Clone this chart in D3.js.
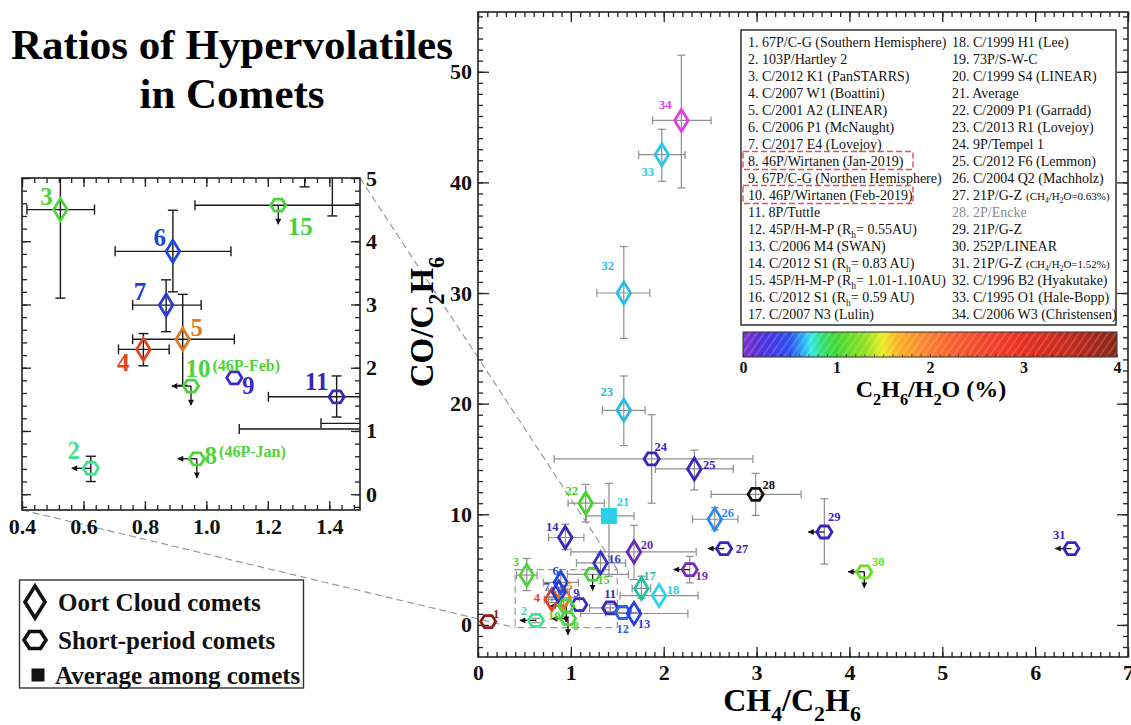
<!DOCTYPE html>
<html>
<head>
<meta charset="utf-8">
<script src="https://cdn.jsdelivr.net/npm/d3@7"></script>
<style>
  html, body { margin: 0; padding: 0; background: #fff; }
  svg { display: block; font-family: "Liberation Serif", "Times New Roman", serif; }
</style>
</head>
<body>
<svg id="chart" width="1131" height="725"></svg>
<script>
// ---------------- data (comet 1 … 34) ----------------
const cometNames = [
  "67P/C-G (Southern Hemisphere)", "103P/Hartley 2", "C/2012 K1 (PanSTARRS)", "C/2007 W1 (Boattini)",
  "C/2001 A2 (LINEAR)", "C/2006 P1 (McNaught)", "C/2017 E4 (Lovejoy)", "46P/Wirtanen (Jan-2019)",
  "67P/C-G (Northen Hemisphere)", "46P/Wirtanen (Feb-2019)", "8P/Tuttle", "45P/H-M-P (R_{h}= 0.55AU)",
  "C/2006 M4 (SWAN)", "C/2012 S1 (R_{h}= 0.83 AU)", "45P/H-M-P (R_{h}= 1.01-1.10AU)", "C/2012 S1 (R_{h}= 0.59 AU)",
  "C/2007 N3 (Lulin)", "C/1999 H1 (Lee)", "73P/S-W-C", "C/1999 S4 (LINEAR)", "Average",
  "C/2009 P1 (Garradd)", "C/2013 R1 (Lovejoy)", "9P/Tempel 1", "C/2012 F6 (Lemmon)", "C/2004 Q2 (Machholz)",
  "21P/G-Z", "2P/Encke", "21P/G-Z", "252P/LINEAR", "21P/G-Z", "C/1996 B2 (Hyakutake)",
  "C/1995 O1 (Hale-Bopp)", "C/2006 W3 (Christensen)"
];
const cometNotes = { 27: "(CH_{4}/H_{2}O=0.63%)", 31: "(CH_{4}/H_{2}O=1.52%)" };
// OC = Oort cloud, SP = short-period, AVG = average among comets
const cometClass = ["SP","SP","OC","OC","OC","OC","OC","SP","SP","SP","SP","SP","OC","OC","SP","OC","OC",
                    "OC","SP","OC","AVG","OC","OC","SP","OC","OC","SP","SP","SP","SP","SP","OC","OC","OC"];
const ch4PerC2h6 = [0.11,0.624,0.525,0.795,0.923,0.891,0.869,0.969,1.091,0.95,1.424,1.56,1.68,0.94,1.234,1.32,1.76,
                    1.95,2.28,1.68,1.41,1.16,1.57,1.87,2.33,2.55,2.65,2.99,3.73,4.16,6.39,1.57,1.98,2.19];
const coPerC2h6  = [0.3,0.41,4.5,2.29,2.45,3.84,2.99,0.56,1.84,1.71,1.54,1.12,1.03,7.9,4.57,5.6,3.3,
                    2.65,5.0,6.6,9.85,11.0,19.4,15.0,14.1,9.55,6.9,11.8,8.4,4.8,6.9,30.0,42.5,45.6];
const ch4Low  = [null,null,0.416,0.714,0.76,0.703,0.76,null,null,null,1.202,1.373,1.107,0.76,0.963,1.06,1.66,
                 1.53,null,1.0,1.17,0.97,1.34,0.82,1.91,2.31,null,2.51,null,null,null,1.28,1.73,1.88];
const ch4High = [null,null,0.636,0.879,1.091,1.08,0.983,null,null,null,1.65,1.75,2.26,1.14,1.62,1.59,1.86,
                 2.37,null,2.35,1.68,1.36,1.80,2.96,2.75,2.80,null,3.48,null,null,null,1.85,2.23,2.51];
const coLow  = [null,0.2,3.1,2.03,1.72,3.2,2.57,null,null,null,1.22,null,null,6.8,null,4.86,2.4,
                null,3.8,4.1,4.4,9.3,16.2,11.0,12.2,8.6,null,9.9,5.5,null,null,25.9,40.1,39.5];
const coHigh = [null,0.6,6.0,2.54,3.16,4.49,3.39,null,null,null,1.87,null,null,9.1,null,6.4,4.4,
                null,6.2,9.0,12.8,12.7,22.5,19.0,15.8,10.6,null,13.7,11.4,null,null,34.2,44.8,51.5];
const ch4IsUpperLimit = [2,8,10,19,27,29,30,31];   // comet numbers
const coIsUpperLimit  = [8,10,15,30];

const mainXTicks = [0,1,2,3,4,5,6,7];
const mainYTicks = [0,10,20,30,40,50];
const insetXTicks = [0.4,0.6,0.8,1.0,1.2,1.4];
const insetYTicks = [0,1,2,3,4,5];
const colourBarTicks = [0,1,2,3,4];
const insetComets = [2,3,4,5,6,7,8,9,10,11,15];
const insetNotes = { 8: "(46P-Jan)", 10: "(46P-Feb)" };
const legendClasses = ["OC","SP","AVG"];
const legendLabels = ["Oort Cloud comets","Short-period comets","Average among comets"];

// ---------------- styles ----------------
// marker colours follow the C2H6/H2O colour bar
const markerColour = ["#8a1c1c","#3ee290","#4cd43a","#e0461c","#e07a22","#2146e0","#2a3ad6","#4cd43a","#3a2cc8",
  "#4cd43a","#3b26b8","#2a62e8","#2b3ee0","#3a28b4","#48d23a","#3434c4","#22c4a0","#2ad2ee","#7a2cb8","#6a28b0",
  "#2ad0e8","#48d228","#22bce6","#3a24c0","#3a24c0","#2a88f0","#3a24c0","#111111","#3a24c0","#66dd22","#3a24c0",
  "#26c0e4","#26c8ec","#e23ee6"];
const colourStops = [
  [0,"#7b30c8"],[0.25,"#4a30e0"],[0.5,"#2a50f0"],[0.64,"#2aa8f2"],[0.72,"#32e6f0"],[0.85,"#30e070"],
  [1.0,"#40d830"],[1.3,"#90e020"],[1.5,"#ecec22"],[1.65,"#f8b424"],[1.9,"#f88a30"],[2.2,"#f86430"],
  [2.6,"#f04428"],[3.0,"#e63020"],[3.5,"#c02a1a"],[4.0,"#8a2418"]];
// label offsets (px) from each marker, main panel
const mainLabelOffset = [[8,-8],[-12,-10],[-11,-14],[-15,-2],[6,-12],[-5,-12],[-12,-5],[8,7],[-3,-12],[-12,10],
  [0,-14],[0,16],[10,10],[-13,-11],[11,5],[14,-4],[8,-13],[14,-6],[12,6],[13,-7],[14,-14],[-14,-13],[-17,-19],
  [9,-12],[15,-4],[13,-7],[18,0],[13,-10],[10,-15],[14,-10],[-12,-14],[-16,-27],[-14,17],[-16,-16]];
const insetLabelOffset = {2:[-17,-18],3:[-14,-13],4:[-20,13],5:[14,-12],6:[-13,-14],7:[-26,-14],8:[14,-4],
  9:[14,7],10:[7,-18],11:[-20,-16],15:[22,21]};

const svg = d3.select("#chart");
const defs = svg.append("defs");
defs.append("marker").attr("id","arrowHead").attr("viewBox","0 0 10 10").attr("refX",9).attr("refY",5)
  .attr("markerUnits","userSpaceOnUse").attr("markerWidth",7).attr("markerHeight",6).attr("orient","auto")
  .append("path").attr("d","M0,0L10,5L0,10Z").attr("fill","#111");

// text with _{…} subscripts
function richText(sel, str, fs) {
  const re = /_\{([^}]*)\}/g;
  const shift = fs * 0.32;
  let last = 0, m, down = false;
  while ((m = re.exec(str))) {
    if (m.index > last) { sel.append("tspan").attr("dy", down ? -shift : null).text(str.slice(last, m.index)); down = false; }
    sel.append("tspan").attr("dy", down ? null : shift).attr("font-size", fs * 0.68).text(m[1]);
    down = true; last = re.lastIndex;
  }
  if (last < str.length) sel.append("tspan").attr("dy", down ? -shift : null).text(str.slice(last));
  return sel;
}

function shapePath(cls, k) {
  if (cls === "OC") { const w = 6.8*k, h = 11*k; return `M0,${-h}L${w},0L0,${h}L${-w},0Z`; }
  if (cls === "SP") { const r = 7.6*k, h = 6*k; return `M${-r},0L${-r/2},${-h}L${r/2},${-h}L${r},0L${r/2},${h}L${-r/2},${h}Z`; }
  const s = 8*k; return `M${-s},${-s}H${s}V${s}H${-s}Z`;
}
function drawMarker(g, cls, colour, k, sw) {
  const p = g.append("path").attr("d", shapePath(cls, k));
  if (cls === "AVG") p.attr("fill", colour).attr("stroke", "none");
  else p.attr("fill", "none").attr("stroke", colour).attr("stroke-width", sw).attr("stroke-linejoin", "miter");
}

const idx = d3.range(34);

// ---------------- title ----------------
svg.append("text").attr("x", 232).attr("y", 59).attr("text-anchor", "middle")
  .attr("font-size", 43).attr("font-weight", "bold").text("Ratios of Hypervolatiles");
svg.append("text").attr("x", 232).attr("y", 108).attr("text-anchor", "middle")
  .attr("font-size", 43).attr("font-weight", "bold").text("in Comets");

// ---------------- scales ----------------
const x = d3.scaleLinear().domain([0, 7]).range([478, 1128]);
const y = d3.scaleLinear().domain([-2.9, 55.4]).range([657, 12]);
const xi = d3.scaleLinear().domain([0.4, 1.5]).range([22, 360]);
const yi = d3.scaleLinear().domain([-0.25, 5]).range([510, 178]);

// ---------------- connector lines between inset and zoom box ----------------
const dash = "7,4";
svg.append("line").attr("x1", xi(1.5)).attr("y1", yi(5)).attr("x2", x(1.5)).attr("y2", y(5))
  .attr("stroke", "#9a9a9a").attr("stroke-width", 1.2).attr("stroke-dasharray", dash);
svg.append("line").attr("x1", xi(0.4)).attr("y1", yi(-0.25)).attr("x2", x(0.4)).attr("y2", y(-0.25))
  .attr("stroke", "#9a9a9a").attr("stroke-width", 1.2).attr("stroke-dasharray", dash);

// ---------------- axes helper ----------------
function styleAxis(g) {
  g.select(".domain").remove();
  g.selectAll("line").attr("stroke", "#222").attr("stroke-width", 1.3);
  g.selectAll("text").attr("font-family", '"Liberation Serif","Times New Roman",serif')
    .attr("font-weight", "bold").attr("font-size", 22).attr("fill", "#111");
}

// ---------------- main panel ----------------
const main = svg.append("g");
const mx0 = x.range()[0], mx1 = x.range()[1], my0 = y.range()[1], my1 = y.range()[0];

main.append("g").attr("transform", `translate(0,${my1})`)
  .call(d3.axisBottom(x).tickValues(d3.range(0, 7.001, 0.1)).tickSize(-5).tickFormat("")).call(styleAxis);
main.append("g").attr("transform", `translate(0,${my1})`)
  .call(d3.axisBottom(x).tickValues(mainXTicks).tickSize(-10).tickPadding(7).tickFormat(d3.format("d"))).call(styleAxis);
main.append("g").attr("transform", `translate(0,${my0})`)
  .call(d3.axisTop(x).tickValues(d3.range(0, 7.001, 0.1)).tickSize(-5).tickFormat("")).call(styleAxis);
main.append("g").attr("transform", `translate(0,${my0})`)
  .call(d3.axisTop(x).tickValues(mainXTicks).tickSize(-10).tickFormat("")).call(styleAxis);
main.append("g").attr("transform", `translate(${mx0},0)`)
  .call(d3.axisLeft(y).tickValues(d3.range(-2, 55.001, 1)).tickSize(-5).tickFormat("")).call(styleAxis);
main.append("g").attr("transform", `translate(${mx0},0)`)
  .call(d3.axisLeft(y).tickValues(mainYTicks).tickSize(-11).tickPadding(6).tickFormat(d3.format("d"))).call(styleAxis);
main.append("g").attr("transform", `translate(${mx1},0)`)
  .call(d3.axisRight(y).tickValues(d3.range(-2, 55.001, 1)).tickSize(-5).tickFormat("")).call(styleAxis);
main.append("g").attr("transform", `translate(${mx1},0)`)
  .call(d3.axisRight(y).tickValues(mainYTicks).tickSize(-11).tickFormat("")).call(styleAxis);
main.append("rect").attr("x", mx0).attr("y", my0).attr("width", mx1 - mx0).attr("height", my1 - my0)
  .attr("fill", "none").attr("stroke", "#222").attr("stroke-width", 1.6);

// axis titles
richText(svg.append("text").attr("x", 792).attr("y", 711).attr("text-anchor", "middle")
  .attr("font-size", 32).attr("font-weight", "bold"), "CH_{4}/C_{2}H_{6}", 32);
richText(svg.append("text").attr("transform", "translate(433,322) rotate(-90)").attr("text-anchor", "middle")
  .attr("font-size", 33).attr("font-weight", "bold"), "CO/C_{2}H_{6}", 33);

// zoom box
main.append("rect").attr("x", x(0.4)).attr("y", y(5)).attr("width", x(1.5) - x(0.4)).attr("height", y(-0.25) - y(5))
  .attr("fill", "none").attr("stroke", "#9a9a9a").attr("stroke-width", 1.2).attr("stroke-dasharray", dash);

// points layer (shared between main panel and inset)
function drawPoints(g, sx, sy, ids, opt) {
  const eb = g.append("g").attr("stroke", opt.barColour).attr("stroke-width", opt.barWidth).attr("fill", "none");
  ids.forEach(i => {
    const px = sx(ch4PerC2h6[i]), py = sy(coPerC2h6[i]);
    if (ch4Low[i] != null) {
      eb.append("line").attr("x1", sx(ch4Low[i])).attr("x2", sx(ch4High[i])).attr("y1", py).attr("y2", py);
      [ch4Low[i], ch4High[i]].forEach(v => eb.append("line").attr("x1", sx(v)).attr("x2", sx(v))
        .attr("y1", py - opt.cap).attr("y2", py + opt.cap));
    }
    if (coLow[i] != null) {
      eb.append("line").attr("x1", px).attr("x2", px).attr("y1", sy(coLow[i])).attr("y2", sy(coHigh[i]));
      [coLow[i], coHigh[i]].forEach(v => eb.append("line").attr("y1", sy(v)).attr("y2", sy(v))
        .attr("x1", px - opt.cap).attr("x2", px + opt.cap));
    }
  });
  const ar = g.append("g").attr("stroke", "#111").attr("stroke-width", 1.3);
  ids.forEach(i => {
    const px = sx(ch4PerC2h6[i]), py = sy(coPerC2h6[i]);
    if (ch4IsUpperLimit.includes(i + 1))
      ar.append("line").attr("x1", px).attr("y1", py).attr("x2", px - opt.arrow).attr("y2", py).attr("marker-end", "url(#arrowHead)");
    if (coIsUpperLimit.includes(i + 1))
      ar.append("line").attr("x1", px).attr("y1", py).attr("x2", px).attr("y2", py + opt.arrow).attr("marker-end", "url(#arrowHead)");
  });
  ids.forEach(i => {
    const m = g.append("g").attr("transform", `translate(${sx(ch4PerC2h6[i])},${sy(coPerC2h6[i])})`);
    drawMarker(m, cometClass[i], markerColour[i], opt.k, opt.sw);
  });
}

drawPoints(main, x, y, idx, { barColour: "#8e8e8e", barWidth: 1.2, cap: 4, arrow: 16, k: 1, sw: 2.8 });

// main panel labels
const mainLabels = main.append("g").attr("font-weight", "bold").attr("font-size", 12.5).attr("text-anchor", "middle");
idx.forEach(i => {
  mainLabels.append("text")
    .attr("x", x(ch4PerC2h6[i]) + mainLabelOffset[i][0])
    .attr("y", y(coPerC2h6[i]) + mainLabelOffset[i][1])
    .attr("dy", "0.35em").attr("fill", markerColour[i]).text(i + 1);
});

// ---------------- inset ----------------
const inset = svg.append("g");
const ix0 = xi.range()[0], ix1 = xi.range()[1], iy0 = yi.range()[1], iy1 = yi.range()[0];
defs.append("clipPath").attr("id", "insetClip").append("rect")
  .attr("x", ix0).attr("y", iy0).attr("width", ix1 - ix0).attr("height", iy1 - iy0);

inset.append("g").attr("transform", `translate(0,${iy1})`)
  .call(d3.axisBottom(xi).tickValues(d3.range(0.4, 1.5001, 0.04)).tickSize(-5).tickFormat("")).call(styleAxis);
inset.append("g").attr("transform", `translate(0,${iy1})`)
  .call(d3.axisBottom(xi).tickValues(insetXTicks).tickSize(-9).tickPadding(8).tickFormat(d3.format(".1f"))).call(styleAxis);
inset.append("g").attr("transform", `translate(0,${iy0})`)
  .call(d3.axisTop(xi).tickValues(d3.range(0.4, 1.5001, 0.04)).tickSize(-5).tickFormat("")).call(styleAxis);
inset.append("g").attr("transform", `translate(0,${iy0})`)
  .call(d3.axisTop(xi).tickValues(insetXTicks).tickSize(-9).tickFormat("")).call(styleAxis);
inset.append("g").attr("transform", `translate(${ix0},0)`)
  .call(d3.axisLeft(yi).tickValues(d3.range(-0.2, 5.001, 0.2)).tickSize(-5).tickFormat("")).call(styleAxis);
inset.append("g").attr("transform", `translate(${ix0},0)`)
  .call(d3.axisLeft(yi).tickValues(insetYTicks).tickSize(-9).tickFormat("")).call(styleAxis);
inset.append("g").attr("transform", `translate(${ix1},0)`)
  .call(d3.axisRight(yi).tickValues(d3.range(-0.2, 5.001, 0.2)).tickSize(-5).tickFormat("")).call(styleAxis);
inset.append("g").attr("transform", `translate(${ix1},0)`)
  .call(d3.axisRight(yi).tickValues(insetYTicks).tickSize(-9).tickPadding(6).tickFormat(d3.format("d"))).call(styleAxis);
inset.append("rect").attr("x", ix0).attr("y", iy0).attr("width", ix1 - ix0).attr("height", iy1 - iy0)
  .attr("fill", "none").attr("stroke", "#222").attr("stroke-width", 1.6);

const insetBody = inset.append("g").attr("clip-path", "url(#insetClip)");
drawPoints(insetBody, xi, yi, idx, { barColour: "#1a1a1a", barWidth: 1.4, cap: 5, arrow: 19, k: 1.0, sw: 2.8 });

const insetLabels = inset.append("g").attr("font-weight", "bold");
insetComets.forEach(n => {
  const i = n - 1, off = insetLabelOffset[n];
  const lx = xi(ch4PerC2h6[i]) + off[0], ly = yi(coPerC2h6[i]) + off[1];
  const t = insetLabels.append("text").attr("x", lx).attr("y", ly).attr("dy", "0.35em")
    .attr("text-anchor", "middle").attr("font-size", 25).attr("fill", markerColour[i]).text(n);
  if (insetNotes[n]) {
    const w = t.node().getComputedTextLength();
    insetLabels.append("text").attr("x", lx + w / 2 + 2).attr("y", ly - 3).attr("dy", "0.35em")
      .attr("font-size", 16).attr("fill", markerColour[i]).text(insetNotes[n]);
  }
});

// ---------------- comet list ----------------
const list = svg.append("g").attr("font-size", 14).attr("fill", "#111");
list.append("rect").attr("x", 741).attr("y", 30).attr("width", 375).attr("height", 295)
  .attr("fill", "#fff").attr("stroke", "#222").attr("stroke-width", 1.4);
const colX = [748, 952];
idx.forEach(i => {
  const col = i < 17 ? 0 : 1, row = i < 17 ? i : i - 17;
  const cy = 41.5 + 17 * row;
  const t = list.append("text").attr("x", colX[col]).attr("y", cy + 5)
    .attr("fill", i + 1 === 28 ? "#8a8a8a" : "#111");
  richText(t, `${i + 1}. ${cometNames[i]}`, 14);
  if (cometNotes[i + 1]) {
    const w = t.node().getComputedTextLength();
    richText(list.append("text").attr("x", colX[col] + w + 4).attr("y", cy + 5).attr("font-size", 11),
      cometNotes[i + 1], 11);
  }
  if (i + 1 === 8 || i + 1 === 10) {
    list.append("rect").attr("x", 743).attr("y", cy - 9).attr("width", 170).attr("height", 18)
      .attr("fill", "none").attr("stroke", "#e0505c").attr("stroke-width", 1.4).attr("stroke-dasharray", "6,3");
  }
});

// ---------------- colour bar ----------------
const cb = d3.scaleLinear().domain([0, 4]).range([743, 1117]);
const grad = defs.append("linearGradient").attr("id", "cbGrad");
colourStops.forEach(s => grad.append("stop").attr("offset", `${s[0] / 4 * 100}%`).attr("stop-color", s[1]));
const hatch = defs.append("pattern").attr("id", "cbHatch").attr("patternUnits", "userSpaceOnUse")
  .attr("width", 6).attr("height", 6).attr("patternTransform", "rotate(35)");
hatch.append("rect").attr("width", 2).attr("height", 6).attr("fill", "#fff").attr("opacity", 0.16);
svg.append("rect").attr("x", cb(0)).attr("y", 332).attr("width", cb(4) - cb(0)).attr("height", 25).attr("fill", "url(#cbGrad)");
svg.append("rect").attr("x", cb(0)).attr("y", 332).attr("width", cb(4) - cb(0)).attr("height", 25).attr("fill", "url(#cbHatch)");
svg.append("rect").attr("x", cb(0)).attr("y", 332).attr("width", cb(4) - cb(0)).attr("height", 25)
  .attr("fill", "none").attr("stroke", "#333").attr("stroke-width", 1);
svg.append("g").attr("transform", "translate(0,357)")
  .call(d3.axisBottom(cb).tickValues(d3.range(0, 4.001, 0.1)).tickSize(-3).tickFormat(""))
  .call(g => { g.select(".domain").remove(); g.selectAll("line").attr("stroke", "#222").attr("opacity", 0.6); });
svg.append("g").attr("transform", "translate(0,357)")
  .call(d3.axisBottom(cb).tickValues(colourBarTicks).tickSize(0).tickPadding(5).tickFormat(d3.format("d")))
  .call(g => { g.select(".domain").remove();
    g.selectAll("text").attr("font-family", '"Liberation Serif","Times New Roman",serif')
      .attr("font-weight", "bold").attr("font-size", 16).attr("fill", "#111"); });
richText(svg.append("text").attr("x", 931).attr("y", 397).attr("text-anchor", "middle")
  .attr("font-size", 24).attr("font-weight", "bold"), "C_{2}H_{6}/H_{2}O (%)", 24);

// ---------------- symbol legend ----------------
const leg = svg.append("g");
leg.append("rect").attr("x", 19.5).attr("y", 580).attr("width", 284).attr("height", 108)
  .attr("fill", "#fff").attr("stroke", "#333").attr("stroke-width", 1.4);
const legY = [602, 640, 675];
legendClasses.forEach((cls, j) => {
  const m = leg.append("g").attr("transform", `translate(${cls === "AVG" ? 38 : 35},${legY[j]})`);
  if (cls === "OC") m.append("path").attr("d", "M0,-16L10,0L0,16L-10,0Z").attr("fill", "none").attr("stroke", "#111").attr("stroke-width", 3.6);
  else if (cls === "SP") m.append("path").attr("d", "M-11,0L-5.5,-8.5L5.5,-8.5L11,0L5.5,8.5L-5.5,8.5Z").attr("fill", "none").attr("stroke", "#111").attr("stroke-width", 3.6);
  else m.append("path").attr("d", "M-6.5,-6.5H6.5V6.5H-6.5Z").attr("fill", "#111");
  leg.append("text").attr("x", cls === "AVG" ? 55 : 58).attr("y", legY[j] + 9)
    .attr("font-size", 25).attr("font-weight", "bold").attr("fill", "#111").text(legendLabels[j]);
});
</script>
</body>
</html>
